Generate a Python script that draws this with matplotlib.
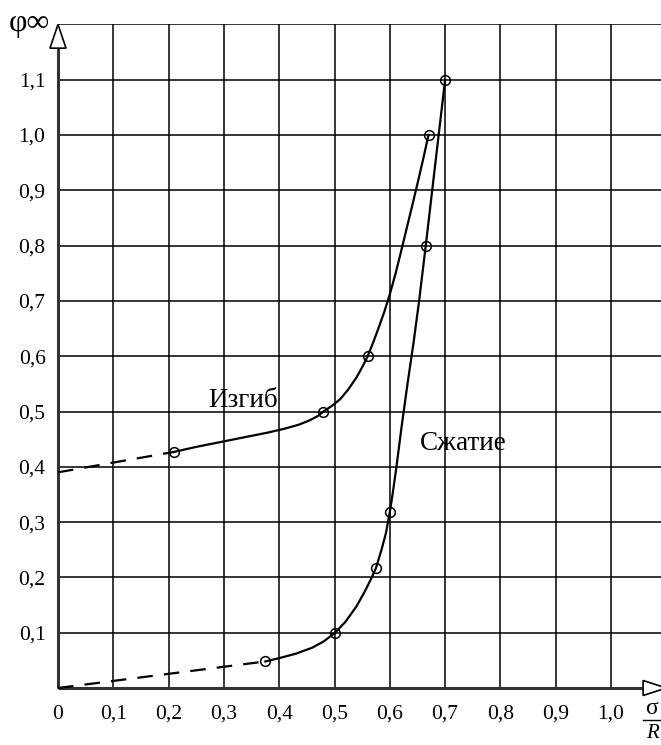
import matplotlib
matplotlib.use("Agg")
import matplotlib.pyplot as plt
from matplotlib.patches import Polygon

plt.rcParams["font.family"] = ["Liberation Serif", "DejaVu Serif"]

# grid / ticks
x_ticks = [0.1, 0.2, 0.3, 0.4, 0.5, 0.6, 0.7, 0.8, 0.9, 1.0]
y_ticks = [0.1, 0.2, 0.3, 0.4, 0.5, 0.6, 0.7, 0.8, 0.9, 1.0, 1.1, 1.2]
x_labels = ["0", "0,1", "0,2", "0,3", "0,4", "0,5", "0,6", "0,7", "0,8", "0,9", "1,0"]
y_labels = ["0,1", "0,2", "0,3", "0,4", "0,5", "0,6", "0,7", "0,8", "0,9", "1,0", "1,1"]

# Изгиб (bending): measured points and traced curve
bend_pts_x = [0.21, 0.48, 0.56, 0.67]
bend_pts_y = [0.427, 0.50, 0.60, 1.00]
bend_curve_x = [0.21, 0.25, 0.30, 0.35, 0.38, 0.41, 0.435, 0.455, 0.47, 0.48, 0.495, 0.51,
                0.525, 0.54, 0.55, 0.56, 0.57, 0.58, 0.59, 0.60, 0.61, 0.62, 0.63, 0.64,
                0.65, 0.66, 0.67]
bend_curve_y = [0.427, 0.436, 0.446, 0.456, 0.462, 0.469, 0.476, 0.484, 0.492, 0.50, 0.51,
                0.522, 0.54, 0.562, 0.58, 0.60, 0.625, 0.652, 0.68, 0.712, 0.748, 0.788,
                0.829, 0.87, 0.912, 0.955, 1.00]
bend_dash_x = [0.0, 0.21]
bend_dash_y = [0.39, 0.427]

# Сжатие (compression)
comp_pts_x = [0.375, 0.50, 0.575, 0.60, 0.665, 0.70]
comp_pts_y = [0.048, 0.099, 0.217, 0.318, 0.80, 1.10]
comp_curve_x = [0.375, 0.40, 0.43, 0.46, 0.48, 0.50, 0.52, 0.54, 0.555, 0.565, 0.575,
                0.585, 0.593, 0.60, 0.605, 0.612, 0.621, 0.632, 0.643, 0.653, 0.665, 0.70]
comp_curve_y = [0.048, 0.054, 0.062, 0.073, 0.084, 0.099, 0.12, 0.148, 0.175, 0.195, 0.217,
                0.25, 0.28, 0.318, 0.35, 0.40, 0.47, 0.55, 0.625, 0.70, 0.80, 1.10]
comp_dash_x = [0.0, 0.375]
comp_dash_y = [0.0, 0.048]

W, H = 661, 745
fig = plt.figure(figsize=(W / 100, H / 100), dpi=100)
ax = fig.add_axes([58 / W, 57 / H, 603 / W, 663.6 / H])
ax.set_xlim(0, 1.0904)
ax.set_ylim(0, 1.2)
for s in ax.spines.values():
    s.set_visible(False)

# grid
ax.vlines(x_ticks, 0, 1.2, color="black", lw=1.1)
ax.hlines(y_ticks, 0, 1.0904, color="black", lw=1.1)

# axes with hollow arrows
ax.plot([0, 0], [0, 1.157], color="#333333", lw=2.2, clip_on=False, solid_capstyle="butt")
ax.plot([0, 1.058], [0, 0], color="#333333", lw=2.2, clip_on=False, solid_capstyle="butt")
ax.add_patch(Polygon([[-0.0145, 1.157], [0.0145, 1.157], [0, 1.2]], closed=True,
                     facecolor="white", edgecolor="black", lw=1.2, clip_on=False, zorder=5))
ax.add_patch(Polygon([[1.058, -0.0136], [1.058, 0.0136], [1.10, 0]], closed=True,
                     facecolor="white", edgecolor="black", lw=1.2, clip_on=False, zorder=5))

# curves
ax.plot(bend_dash_x, bend_dash_y, color="black", lw=1.6, dashes=(7, 5), clip_on=False)
ax.plot(comp_dash_x, comp_dash_y, color="black", lw=1.6, dashes=(7, 5), clip_on=False)
ax.plot(bend_curve_x, bend_curve_y, color="black", lw=1.6, solid_joinstyle="round")
ax.plot(comp_curve_x, comp_curve_y, color="black", lw=1.6, solid_joinstyle="round")
ax.plot(bend_pts_x, bend_pts_y, "o", ms=7, mfc="none", mec="black", mew=1.1)
ax.plot(comp_pts_x, comp_pts_y, "o", ms=7, mfc="none", mec="black", mew=1.1)

# tick labels
ax.set_xticks([0] + x_ticks)
ax.set_xticklabels(x_labels, fontsize=15.5)
ax.set_yticks(y_ticks[:-1])
ax.set_yticklabels(y_labels, fontsize=15.5)
ax.tick_params(length=0)
ax.tick_params(axis="x", pad=12)
ax.tick_params(axis="y", pad=9)

# labels
ax.text(0.271, 0.508, "Изгиб", fontsize=19.5, ha="left", va="baseline")
ax.text(0.655, 0.43, "Сжатие", fontsize=19.5, ha="left", va="baseline")
fig.text(9 / W, 1 - 31 / H, "φ∞", fontsize=23, ha="left", va="baseline")
fig.text(652 / W, 1 - 714 / H, "σ", fontsize=17, ha="center", va="baseline")
fig.add_artist(plt.Line2D([643 / W, 661 / W], [1 - 720 / H, 1 - 720 / H],
                          transform=fig.transFigure, color="black", lw=1))
fig.text(652 / W, 1 - 738 / H, "R", fontsize=15, style="italic", ha="center", va="baseline")

fig.savefig("out.png", dpi=100)
